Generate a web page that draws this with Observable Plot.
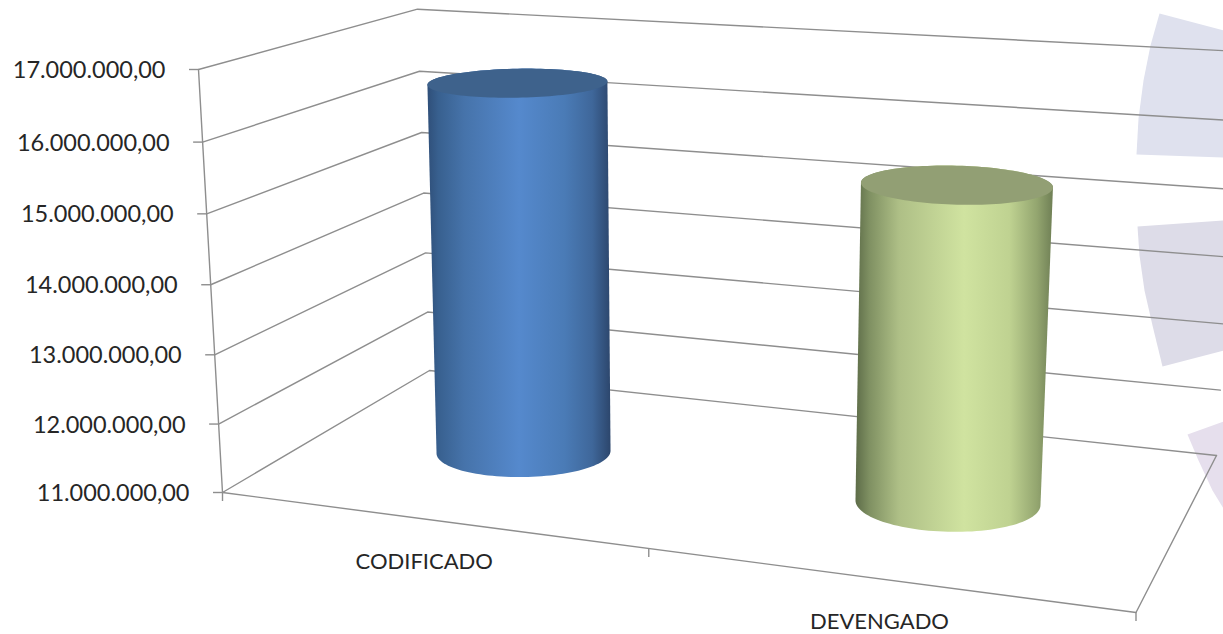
<!DOCTYPE html>
<html>
<head>
<meta charset="utf-8">
<script src="https://cdn.jsdelivr.net/npm/d3@7"></script>
<script src="https://cdn.jsdelivr.net/npm/@observablehq/plot@0.6"></script>
<style>
html,body{margin:0;padding:0;background:#fff;overflow:hidden}
svg{display:block}
</style>
</head>
<body>
<div id="chart"></div>
<script>
// ---- data ----
const categories = ["CODIFICADO", "DEVENGADO"];
const values = [16530000, 15530000];
const tickValues = [11000000, 12000000, 13000000, 14000000, 15000000, 16000000, 17000000];
const tickLabels = ["11.000.000,00", "12.000.000,00", "13.000.000,00", "14.000.000,00", "15.000.000,00", "16.000.000,00", "17.000.000,00"];

// ---- 3D projection of the chart box onto the page ----
const W = 1223, H = 634;
const yMin = 11000000, yMax = 17000000;
const box = {
  fl0: [222, 492], fl1: [198, 69],
  bl0: [429, 370], bl1: [417, 8.7],
  br0: [1216, 455], br1: [1240, 51],
  fr0: [1135.5, 612], fr1: [1185, 139]
};
const warp = (t, r) => t / (r - (r - 1) * t);
const mix = (a, b, t) => [a[0] + (b[0] - a[0]) * t, a[1] + (b[1] - a[1]) * t];
function project(c, d, v) {
  const cw = warp(c, 1.143);
  const tw = warp((v - yMin) / (yMax - yMin), 1.036);
  const bottom = mix(mix(box.fl0, box.fr0, cw), mix(box.bl0, box.br0, cw), d);
  const top = mix(mix(box.fl1, box.fr1, cw), mix(box.bl1, box.br1, cw), d);
  return mix(bottom, top, tw);
}
const catC = i => (i + 0.5) / categories.length;

// ---- walls, floor, ticks ----
const gridLines = tickValues.flatMap((v, k) => [
  project(0, 0, v), project(0, 1, v), project(1, 1, v)
].map(p => ({x: p[0], y: p[1], k})));
const leftAxis = tickValues.map(v => { const p = project(0, 0, v); return {x: p[0], y: p[1]}; });
const floorEdge = [project(0, 0, yMin), project(1, 0, yMin), project(1, 1, yMin)].map(p => ({x: p[0], y: p[1]}));
const valueTicks = tickValues.map((v, i) => { const p = project(0, 0, v); return {x1: p[0] - 9, x2: p[0], y: p[1], label: tickLabels[i]}; });
const catTicks = d3.range(categories.length + 1).map(i => { const p = project(i / categories.length, 0, yMin); return {x: p[0], y1: p[1], y2: p[1] + 9}; });
const catLabels = categories.map((name, i) => { const p = project(catC(i), 0, yMin); return {x: p[0], y: p[1], name}; });

// ---- pale decorative wedges behind the gridlines ----
const wedges = [
  {fill: "#dfe1ee", pts: [[1159,13],[1223,30],[1223,157],[1136,154],[1138,118],[1143,80],[1150,45]]},
  {fill: "#dddce8", pts: [[1137,226],[1223,220],[1223,350],[1162,366],[1152,325],[1144,290],[1139,255]]},
  {fill: "#e6dfed", pts: [[1187,434],[1223,421],[1223,508],[1212,490],[1198,460]]}
].flatMap((w, k) => w.pts.map(p => ({x: p[0], y: p[1], k, fill: w.fill})));

// ---- cylinders ----
const cylShape = [
  {rxTop: 90, rxBase: 87, ryTop: 14.5, ryBase: 25, tiltTop: -0.018, tiltBase: -0.015, topDx: 1, baseDx: 2, body: "url(#gBlue)", cap: "#3e628c"},
  {rxTop: 96, rxBase: 92.5, ryTop: 19.5, ryBase: 29, tiltTop: 0.025, tiltBase: 0.025, topDx: -3, baseDx: 4, body: "url(#gGreen)", cap: "#929f74"}
];
function ellipsePts(c, rx, ry, tilt, a0, a1, n = 60) {
  return d3.range(n + 1).map(k => {
    const a = a0 + (a1 - a0) * k / n;
    const ex = rx * Math.cos(a), ey = ry * Math.sin(a);
    return [c[0] + ex, c[1] + ey + ex * tilt];
  });
}
const bodies = [], caps = [];
values.forEach((v, i) => {
  const s = cylShape[i];
  const b0 = project(catC(i), 0.52, yMin), t0 = project(catC(i), 0.52, v);
  const base = [b0[0] + s.baseDx, b0[1]], top = [t0[0] + s.topDx, t0[1]];
  const rimTop = ellipsePts(top, s.rxTop, s.ryTop, s.tiltTop, Math.PI, 2 * Math.PI);
  const rimBase = ellipsePts(base, s.rxBase, s.ryBase, s.tiltBase, 0, Math.PI);
  [...rimTop, ...rimBase].forEach(p => bodies.push({x: p[0], y: p[1], i, fill: s.body}));
  ellipsePts(top, s.rxTop, s.ryTop, s.tiltTop, 0, 2 * Math.PI, 120).forEach(p => caps.push({x: p[0], y: p[1], i, fill: s.cap}));
});

// ---- gradients ----
function gradients() {
  const ns = "http://www.w3.org/2000/svg";
  const defs = document.createElementNS(ns, "defs");
  const make = (id, stops) => {
    const g = document.createElementNS(ns, "linearGradient");
    g.setAttribute("id", id);
    stops.forEach(([o, c]) => {
      const s = document.createElementNS(ns, "stop");
      s.setAttribute("offset", o);
      s.setAttribute("stop-color", c);
      g.appendChild(s);
    });
    defs.appendChild(g);
  };
  make("gBlue", [[0, "#2f4f79"], [0.06, "#38608f"], [0.2, "#4673aa"], [0.5, "#5589cd"], [0.75, "#4a7bb6"], [0.9, "#3f679a"], [1, "#2c466c"]]);
  make("gGreen", [[0, "#5d6c48"], [0.07, "#7f9062"], [0.22, "#aebf86"], [0.55, "#d0e3a0"], [0.78, "#bfd291"], [0.92, "#93a56f"], [1, "#6f7f55"]]);
  return defs;
}

const font = "Lato, Carlito, 'Open Sans', sans-serif";
const lineColor = "#8e8e8e";

const chart = Plot.plot({
  width: W, height: H,
  margin: 0,
  x: {domain: [0, W], range: [0, W], axis: null},
  y: {domain: [0, H], range: [0, H], axis: null},
  marks: [
    gradients,
    Plot.line(wedges, {x: "x", y: "y", z: "k", fill: "fill", stroke: "none"}),
    Plot.line(gridLines, {x: "x", y: "y", z: "k", stroke: lineColor, strokeWidth: 1.4}),
    Plot.line(leftAxis, {x: "x", y: "y", stroke: lineColor, strokeWidth: 1.4}),
    Plot.line(floorEdge, {x: "x", y: "y", stroke: lineColor, strokeWidth: 1.4}),
    Plot.ruleY(valueTicks, {x1: "x1", x2: "x2", y: "y", stroke: lineColor, strokeWidth: 1.4}),
    Plot.ruleX(catTicks, {x: "x", y1: "y1", y2: "y2", stroke: lineColor, strokeWidth: 1.4}),
    Plot.line(bodies, {x: "x", y: "y", z: "i", fill: "fill", stroke: "none"}),
    Plot.line(caps, {x: "x", y: "y", z: "i", fill: "fill", stroke: "none"}),
    Plot.text(valueTicks, {x: "x2", y: "y", text: "label", textAnchor: "end", dx: -33, dy: 1, fontFamily: font, fontSize: 23.5, fill: "#262626"}),
    Plot.text(catLabels, {x: "x", y: "y", text: "name", dx: -4.5, dy: 42.5, fontFamily: font, fontSize: 22, fill: "#262626"})
  ]
});
document.getElementById("chart").appendChild(chart);
</script>
</body>
</html>
